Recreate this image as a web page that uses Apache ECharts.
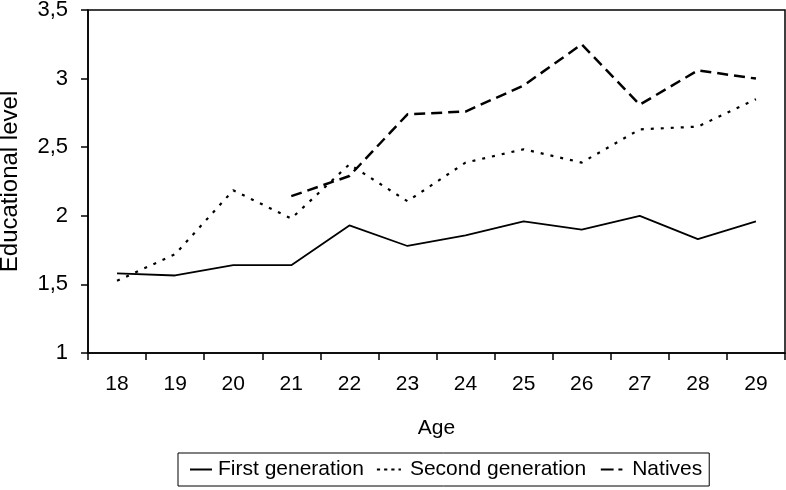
<!DOCTYPE html>
<html><head><meta charset="utf-8">
<script src="https://cdn.jsdelivr.net/npm/echarts@6/dist/echarts.min.js"></script>
<style>html,body{margin:0;padding:0;background:#fff}#c{width:786px;height:490px}</style>
</head><body><div id="c"></div>
<script>
const ages = ['18','19','20','21','22','23','24','25','26','27','28','29'];
const firstGen = [1.58,1.565,1.64,1.64,1.93,1.78,1.857,1.96,1.90,2.00,1.83,1.96];
const secondGen = [1.526,1.72,2.186,1.98,2.375,2.106,2.388,2.485,2.388,2.63,2.65,2.85];
const natives = [null,null,null,2.143,2.29,2.74,2.76,2.95,3.25,2.81,3.06,3.0];
const yTicks = [1,1.5,2,2.5,3,3.5];

const font = 'Liberation Sans, Arial, sans-serif';
const chart = echarts.init(document.getElementById('c'), null, {renderer:'canvas'});
chart.setOption({
  animation:false,
  backgroundColor:'#fff',
  grid:{left:88,top:10,right:1,bottom:137,show:true,borderColor:'#000',borderWidth:1.5,outerBoundsMode:'none'},
  legend:{
    top:453,left:178,
    data:[
      {name:'First generation',icon:'path://M8,0h22v2h-22z M0,0'},
      {name:'Second generation',icon:'path://M0,0h4v2.5h-4z M9,0h4v2.5h-4z M18,0h4v2.5h-4z M27,0h3v2.5h-3z'},
      {name:'Natives',icon:'path://M2,0h16v2.5h-16z M24,0h5v2.5h-5z M0,0 M30,0'}
    ],
    itemWidth:30,itemHeight:2,itemGap:13,
    borderColor:'#000',borderWidth:1,padding:[6,7,6,4],
    itemStyle:{color:'#000'},
    textStyle:{fontFamily:font,fontSize:21,color:'#000',padding:[0,0,0,1]}
  },
  xAxis:{
    type:'category',data:ages,boundaryGap:true,
    name:'Age',nameLocation:'middle',nameGap:65,
    nameTextStyle:{fontFamily:font,fontSize:21,color:'#000'},
    axisLine:{lineStyle:{color:'#000',width:1.5}},
    axisTick:{show:true,length:7,lineStyle:{color:'#000',width:1.5}},
    axisLabel:{fontFamily:font,fontSize:21,color:'#000',margin:21},
    splitLine:{show:false}
  },
  yAxis:{
    type:'value',min:1,max:3.5,interval:0.5,
    name:'Educational level',nameLocation:'middle',nameGap:66,
    nameTextStyle:{fontFamily:font,fontSize:24,color:'#000'},
    axisLine:{show:true,lineStyle:{color:'#000',width:1.5}},
    axisTick:{show:true,length:7,lineStyle:{color:'#000',width:1.5}},
    axisLabel:{fontFamily:font,fontSize:22,color:'#000',margin:20,
      formatter:v=>{const t=yTicks.find(x=>Math.abs(x-v)<1e-9);return String(t!==undefined?t:v).replace('.',',');}},
    splitLine:{show:false}
  },
  series:[
    {name:'First generation',type:'line',data:firstGen,symbol:'none',
     lineStyle:{color:'#000',width:1.8,type:'solid'},itemStyle:{color:'#000'}},
    {name:'Second generation',type:'line',data:secondGen,symbol:'none',
     lineStyle:{color:'#000',width:2.2,type:[3,7]},itemStyle:{color:'#000'}},
    {name:'Natives',type:'line',data:natives,symbol:'none',
     lineStyle:{color:'#000',width:2.5,type:[11,6]},itemStyle:{color:'#000'}}
  ]
});
</script></body></html>
